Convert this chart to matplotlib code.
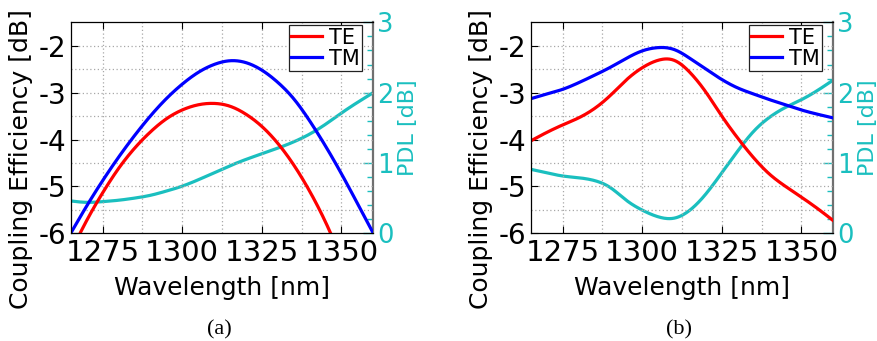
import matplotlib
matplotlib.use("Agg")
import matplotlib.pyplot as plt
import numpy as np

# ---------------- data ----------------
nm = [1265, 1270, 1275, 1280, 1285, 1290, 1295, 1300, 1305, 1310, 1315, 1320,
      1325, 1330, 1335, 1340, 1345, 1350, 1355, 1360]

# Panel (a)
a_te_nm = [1265, 1270, 1275, 1280, 1285, 1290, 1295, 1300, 1305, 1310, 1315, 1320,
           1325, 1330, 1335, 1340, 1345, 1350]
a_te_db = [-6.40, -5.73, -5.14, -4.62, -4.19, -3.84, -3.56, -3.37, -3.26, -3.23, -3.29,
           -3.46, -3.72, -4.08, -4.54, -5.10, -5.76, -6.53]
a_tm_db = [-6.0, -5.42, -4.88, -4.38, -3.92, -3.50, -3.13, -2.82, -2.57, -2.40, -2.32,
           -2.36, -2.52, -2.78, -3.13, -3.60, -4.14, -4.73, -5.36, -6.0]
a_pdl = [0.46, 0.44, 0.45, 0.47, 0.50, 0.54, 0.60, 0.67, 0.76, 0.86, 0.96, 1.05,
         1.13, 1.21, 1.30, 1.41, 1.55, 1.71, 1.86, 2.0]

# Panel (b)
b_te_db = [-4.03, -3.85, -3.69, -3.54, -3.34, -3.06, -2.73, -2.47, -2.31, -2.31, -2.57,
           -2.99, -3.50, -3.97, -4.39, -4.74, -5.00, -5.23, -5.47, -5.73]
b_tm_db = [-3.13, -3.03, -2.93, -2.79, -2.63, -2.46, -2.27, -2.11, -2.04, -2.08, -2.27,
           -2.50, -2.72, -2.90, -3.03, -3.15, -3.26, -3.37, -3.46, -3.54]
b_pdl = [0.91, 0.86, 0.815, 0.79, 0.75, 0.65, 0.47, 0.33, 0.235, 0.215, 0.33, 0.56,
         0.86, 1.17, 1.45, 1.65, 1.79, 1.90, 2.03, 2.18]

x_ticks = [1275, 1300, 1325, 1350]
y_ticks = [-6, -5, -4, -3, -2]
pdl_ticks = [0, 1, 2, 3]

RED = '#FF0000'
BLUE = '#0000FF'
CYAN = '#1ABFBF'

W, H = 878, 341
plt.rcParams['font.family'] = ['DejaVu Sans']
fig = plt.figure(figsize=(W / 100, H / 100), dpi=100)


def spline(xs, ys, n=400):
    """Natural cubic spline through the read points (for drawing only)."""
    x = np.asarray(xs, float)
    y = np.asarray(ys, float)
    k = len(x)
    h = np.diff(x)
    A = np.zeros((k, k))
    r = np.zeros(k)
    A[0, 0] = 1
    A[-1, -1] = 1
    for i in range(1, k - 1):
        A[i, i - 1] = h[i - 1]
        A[i, i] = 2 * (h[i - 1] + h[i])
        A[i, i + 1] = h[i]
        r[i] = 6 * ((y[i + 1] - y[i]) / h[i] - (y[i] - y[i - 1]) / h[i - 1])
    M = np.linalg.solve(A, r)
    xn = np.linspace(x[0], x[-1], n)
    idx = np.clip(np.searchsorted(x, xn) - 1, 0, k - 2)
    x0, x1 = x[idx], x[idx + 1]
    hh = x1 - x0
    t0 = x1 - xn
    t1 = xn - x0
    yn = (M[idx] * t0 ** 3 + M[idx + 1] * t1 ** 3) / (6 * hh) \
        + (y[idx] / hh - M[idx] * hh / 6) * t0 + (y[idx + 1] / hh - M[idx + 1] * hh / 6) * t1
    return xn, yn


def panel(left_px, te_nm, te_db, tm_db, pdl, label, cap_x):
    l = left_px / W
    b = 1 - 233.3 / H
    w = 302.6 / W
    h = 211.0 / H
    ax = fig.add_axes([l, b, w, h])
    ax2 = ax.twinx()
    ax.set_zorder(ax2.get_zorder() + 1)
    ax.patch.set_visible(False)

    ax.set_xlim(1265, 1360)
    ax.set_ylim(-6, -1.5)
    ax2.set_ylim(0, 3)

    # dotted grid
    for gx in np.arange(1275, 1360, 12.5):
        ax.axvline(gx, color='#a8a8a8', lw=0.9, ls=(0, (1, 2)), zorder=0)
    for gy in np.arange(-5.5, -1.5, 0.5):
        ax.axhline(gy, color='#a8a8a8', lw=0.9, ls=(0, (1, 2)), zorder=0)

    xs, ys = spline(nm, pdl)
    ax2.plot(xs, ys, color=CYAN, lw=2.3)
    xs, ys = spline(te_nm, te_db)
    ax.plot(xs, ys, color=RED, lw=2.3, label='TE')
    xs, ys = spline(nm, tm_db)
    ax.plot(xs, ys, color=BLUE, lw=2.3, label='TM')

    ax.set_xticks(x_ticks)
    ax.set_yticks(y_ticks)
    ax.set_xticklabels([str(t) for t in x_ticks], fontsize=21)
    ax.set_yticklabels([str(t) for t in y_ticks], fontsize=20)
    ax.tick_params(axis='x', direction='in', top=True, length=5, width=0.8, pad=4)
    ax.tick_params(axis='y', direction='in', length=5, width=0.8, pad=3)
    ax2.set_yticks(pdl_ticks)
    ax2.set_yticks(np.arange(0, 3.01, 0.2), minor=True)
    ax2.set_yticklabels([str(t) for t in pdl_ticks], fontsize=18.5, color=CYAN)
    ax2.tick_params(axis='y', which='major', direction='in', length=7, width=1.0,
                    color=CYAN, pad=2.5)
    ax2.tick_params(axis='y', which='minor', direction='in', length=4, width=1.0,
                    color=CYAN)

    for s in ['left', 'bottom', 'top']:
        ax.spines[s].set_color('black')
        ax.spines[s].set_linewidth(0.9)
    ax.spines['right'].set_visible(False)
    for s in ['left', 'bottom', 'top']:
        ax2.spines[s].set_visible(False)
    ax2.spines['right'].set_color('#707070')
    ax2.spines['right'].set_linewidth(1.6)

    ax.set_xlabel('Wavelength [nm]', fontsize=18)
    ax.xaxis.set_label_coords(0.5, -0.20)
    ax.set_ylabel('Coupling Efficiency [dB]', fontsize=18)
    ax.yaxis.set_label_coords(-0.124, 0.352)
    ax2.set_ylabel('PDL [dB]', fontsize=16, color=CYAN)
    ax2.yaxis.set_label_coords(1.08, 0.5)

    leg = ax.legend(loc='upper right', bbox_to_anchor=(0.962, 0.987), borderaxespad=0,
                    fontsize=15, frameon=True, fancybox=False, framealpha=1,
                    edgecolor='#222222', handlelength=1.5, handletextpad=0.3,
                    borderpad=0.12, labelspacing=0.05)
    leg.get_frame().set_linewidth(0.9)

    fig.text(cap_x / W, 1 - 330 / H, label, fontsize=16, family='Liberation Serif',
             ha='center', va='center')


panel(70.7, a_te_nm, a_te_db, a_tm_db, a_pdl, '(a)', 219)
panel(530.7, nm, b_te_db, b_tm_db, b_pdl, '(b)', 679)

fig.savefig('out.png', dpi=100)
